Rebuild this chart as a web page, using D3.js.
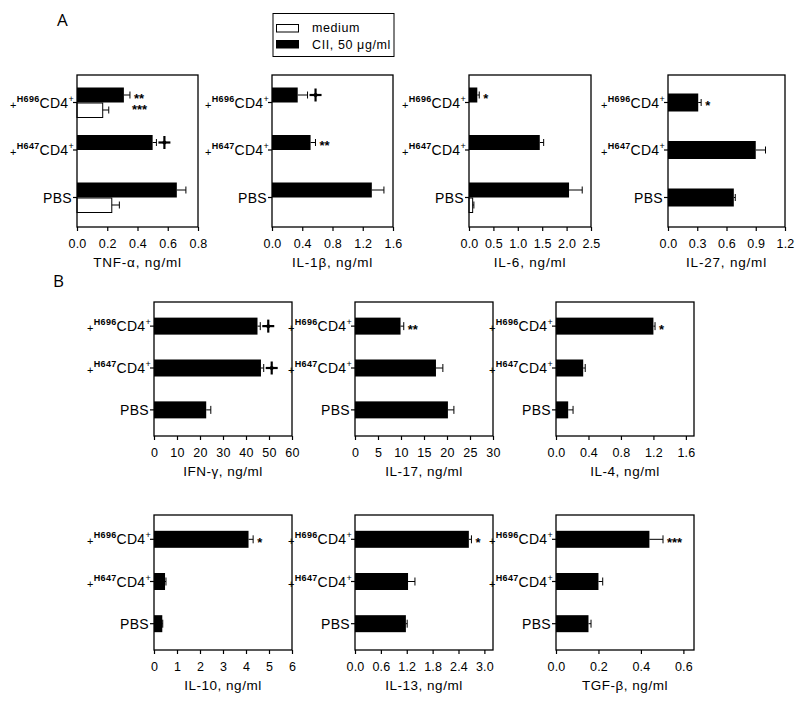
<!DOCTYPE html>
<html>
<head>
<meta charset="utf-8">
<script src="https://cdn.jsdelivr.net/npm/d3@7"></script>
<style>
  body { margin: 0; background: #fff; }
  text { font-family: "Liberation Sans", Arial, sans-serif; fill: #000; }
</style>
</head>
<body>
<script>
"use strict";
// groups on the y axis, top to bottom
var categories = ["H696", "H647", "PBS"];

// panel A : CII (black) and medium (white) bars, values in ng/ml
var tnfCII = [0.31, 0.50, 0.66], tnfCIIErr = [0.04, 0.025, 0.06];
var tnfMed = [0.17, 0, 0.23], tnfMedErr = [0.04, 0, 0.05];
var tnfSig = ["**", "cross", ""], tnfMedSig = ["***", "", ""];

var il1bCII = [0.34, 0.51, 1.32], il1bCIIErr = [0.13, 0.065, 0.16];
var il1bMed = [0, 0, 0], il1bMedErr = [0, 0, 0];
var il1bSig = ["cross", "**", ""];

var il6CII = [0.17, 1.45, 2.05], il6CIIErr = [0.04, 0.08, 0.27];
var il6Med = [0, 0, 0.075], il6MedErr = [0, 0, 0.025];
var il6Sig = ["*", "", ""];

var il27CII = [0.31, 0.90, 0.675], il27CIIErr = [0.03, 0.10, 0.015];
var il27Sig = ["*", "", ""];

// panel B : CII only
var ifngVal = [45.0, 46.5, 22.7], ifngErr = [1.2, 1.2, 2.0], ifngSig = ["cross", "cross", ""];
var il17Val = [9.9, 17.6, 20.2], il17Err = [0.7, 1.5, 1.3], il17Sig = ["**", "", ""];
var il4Val = [1.2, 0.335, 0.15], il4Err = [0.02, 0.025, 0.06], il4Sig = ["*", "", ""];
var il10Val = [4.11, 0.48, 0.36], il10Err = [0.2, 0.04, 0.02], il10Sig = ["*", "", ""];
var il13Val = [2.64, 1.23, 1.18], il13Err = [0.06, 0.16, 0.03], il13Sig = ["*", "", ""];
var tgfVal = [0.44, 0.20, 0.153], tgfErr = [0.064, 0.02, 0.012], tgfSig = ["***", "", ""];

// x axis tick values
var tnfTicks = [0, 0.2, 0.4, 0.6, 0.8];
var il1bTicks = [0, 0.4, 0.8, 1.2, 1.6];
var il6Ticks = [0, 0.5, 1.0, 1.5, 2.0, 2.5];
var il27Ticks = [0, 0.3, 0.6, 0.9, 1.2];
var ifngTicks = [0, 10, 20, 30, 40, 50, 60];
var il17Ticks = [0, 5, 10, 15, 20, 25, 30];
var il4Ticks = [0, 0.4, 0.8, 1.2, 1.6];
var il10Ticks = [0, 1, 2, 3, 4, 5, 6];
var il13Ticks = [0, 0.6, 1.2, 1.8, 2.4, 3.0];
var tgfTicks = [0, 0.2, 0.4, 0.6];

var panels = [
  { title: "TNF-\u03b1, ng/ml", max: 0.8, ticks: tnfTicks, fmt: ".1f", val: tnfCII, err: tnfCIIErr, med: tnfMed, medErr: tnfMedErr, sig: tnfSig, medSig: tnfMedSig,
    x0: 77, x1: 198, top: 75, bottom: 227, mode: "grouped" },
  { title: "IL-1\u03b2, ng/ml", max: 1.6, ticks: il1bTicks, fmt: ".1f", val: il1bCII, err: il1bCIIErr, med: il1bMed, medErr: il1bMedErr, sig: il1bSig,
    x0: 272, x1: 393, top: 75, bottom: 227, mode: "grouped" },
  { title: "IL-6, ng/ml", max: 2.5, ticks: il6Ticks, fmt: ".1f", val: il6CII, err: il6CIIErr, med: il6Med, medErr: il6MedErr, sig: il6Sig,
    x0: 469, x1: 591, top: 75, bottom: 227, mode: "grouped" },
  { title: "IL-27, ng/ml", max: 1.2, ticks: il27Ticks, fmt: ".1f", val: il27CII, err: il27CIIErr, sig: il27Sig,
    x0: 668, x1: 785, top: 75, bottom: 227, mode: "single", barH: 18 },
  { title: "IFN-\u03b3, ng/ml", max: 60, ticks: ifngTicks, fmt: "d", val: ifngVal, err: ifngErr, sig: ifngSig,
    x0: 154, x1: 292, top: 302, bottom: 436, mode: "single", barH: 17, small: true },
  { title: "IL-17, ng/ml", max: 30, ticks: il17Ticks, fmt: "d", val: il17Val, err: il17Err, sig: il17Sig,
    x0: 355, x1: 493, top: 302, bottom: 436, mode: "single", barH: 17, small: true },
  { title: "IL-4, ng/ml", max: 1.7, ticks: il4Ticks, fmt: ".1f", val: il4Val, err: il4Err, sig: il4Sig,
    x0: 556, x1: 694, top: 302, bottom: 436, mode: "single", barH: 17, small: true },
  { title: "IL-10, ng/ml", max: 6, ticks: il10Ticks, fmt: "d", val: il10Val, err: il10Err, sig: il10Sig,
    x0: 154, x1: 292, top: 515, bottom: 650, mode: "single", barH: 17, small: true },
  { title: "IL-13, ng/ml", max: 3.2, ticks: il13Ticks, fmt: ".1f", val: il13Val, err: il13Err, sig: il13Sig,
    x0: 355, x1: 493, top: 515, bottom: 650, mode: "single", barH: 17, small: true },
  { title: "TGF-\u03b2, ng/ml", max: 0.65, ticks: tgfTicks, fmt: ".1f", val: tgfVal, err: tgfErr, sig: tgfSig,
    x0: 556, x1: 694, top: 515, bottom: 650, mode: "single", barH: 17, small: true }
];

var svg = d3.select("body").append("svg")
  .attr("width", 800)
  .attr("height", 702);

//panel letters
svg.append("text").attr("x", 57).attr("y", 26)
  .style("font-family", "'Open Sans', 'DejaVu Sans', sans-serif")
  .attr("font-size", 17).text("A");
svg.append("text").attr("x", 53).attr("y", 287)
  .style("font-family", "'Open Sans', 'DejaVu Sans', sans-serif")
  .attr("font-size", 17).text("B");

//legend
var leg = svg.append("g");
leg.append("rect").attr("x", 273).attr("y", 13.5).attr("width", 121).attr("height", 43)
  .attr("fill", "#fff").attr("stroke", "#000").attr("stroke-width", 1);
leg.append("rect").attr("x", 276.5).attr("y", 24.5).attr("width", 22).attr("height", 7.5)
  .attr("fill", "#fff").attr("stroke", "#000").attr("stroke-width", 1);
leg.append("rect").attr("x", 276.5).attr("y", 40.5).attr("width", 22).attr("height", 7.5)
  .attr("fill", "#000").attr("stroke", "#000").attr("stroke-width", 1);
leg.append("text").attr("x", 312).attr("y", 31.5).attr("font-size", 12.5)
  .attr("letter-spacing", 0.6).text("medium");
leg.append("text").attr("x", 312).attr("y", 48.5).attr("font-size", 12.5)
  .attr("letter-spacing", 0.6).text("CII, 50 \u03bcg/ml");

//category label with superscripts, e.g. +H696CD4+
function catLabel(g, cat, xr, y) {
  var t = g.append("text")
    .attr("x", cat === "PBS" ? xr - 2 : xr)
    .attr("y", y + 5)
    .attr("text-anchor", "end")
    .attr("font-size", 14)
    .attr("letter-spacing", 0.3);
  if (cat === "PBS") {
    t.text("PBS");
    return;
  }
  t.append("tspan").attr("font-size", 11).attr("dy", 1).text("+");
  t.append("tspan").attr("font-size", 9).attr("font-weight", "bold").attr("dy", -7).text(cat);
  t.append("tspan").attr("dy", 6).text("CD4");
  t.append("tspan").attr("font-size", 9).attr("dy", -6).text("+");
}

//significance mark: stars as text, the cross drawn as lines
function sigMark(g, s, x, yc) {
  if (!s) return;
  if (s === "cross") {
    var cx = x + 6;
    g.append("line").attr("x1", cx).attr("x2", cx).attr("y1", yc - 6.5).attr("y2", yc + 6.5)
      .attr("stroke", "#000").attr("stroke-width", 2.2);
    g.append("line").attr("x1", cx - 6).attr("x2", cx + 6).attr("y1", yc).attr("y2", yc)
      .attr("stroke", "#000").attr("stroke-width", 2.2);
    g.append("circle").attr("cx", cx).attr("cy", yc).attr("r", 2).attr("fill", "#000");
    return;
  }
  g.append("text").attr("x", x + 2).attr("y", yc + 7.5)
    .attr("font-size", 13).attr("font-weight", "bold").text(s);
}

function errBar(g, x, v, e, yc, cap) {
  if (!e) return;
  g.append("line").attr("x1", x(v)).attr("x2", x(v + e)).attr("y1", yc).attr("y2", yc)
    .attr("stroke", "#000").attr("stroke-width", 1);
  g.append("line").attr("x1", x(v + e)).attr("x2", x(v + e)).attr("y1", yc - cap / 2).attr("y2", yc + cap / 2)
    .attr("stroke", "#000").attr("stroke-width", 1);
}

panels.forEach(function(p) {
  var g = svg.append("g");
  var x = d3.scaleLinear().domain([0, p.max]).range([p.x0, p.x1]);
  var y = d3.scalePoint().domain(categories).range([p.top - 1, p.bottom - 1]).padding(0.6);
  var cap = p.small ? 8 : 7;

  //bars
  categories.forEach(function(c, i) {
    var yc = y(c), v = p.val[i], e = p.err[i];
    var barTop, barH, barMid;
    if (p.mode === "grouped") {
      barH = 15;
      barTop = yc - barH;
    } else {
      barH = p.barH;
      barTop = yc - barH / 2;
    }
    barMid = barTop + barH / 2;
    g.append("rect").attr("x", x(0)).attr("y", barTop)
      .attr("width", x(v) - x(0)).attr("height", barH).attr("fill", "#000");
    errBar(g, x, v, e, barMid, cap);
    sigMark(g, p.sig[i], x(v + e) + 2, barMid);

    if (p.mode === "grouped" && p.med[i] > 0) {
      var m = p.med[i], me = p.medErr[i];
      g.append("rect").attr("x", x(0)).attr("y", yc + 0.5)
        .attr("width", x(m) - x(0)).attr("height", 14.5)
        .attr("fill", "#fff").attr("stroke", "#000").attr("stroke-width", 1);
      errBar(g, x, m, me, yc + 7.5, cap);
    }
    if (p.medSig && p.medSig[i]) {
      g.append("text").attr("x", x(v + e) + 2).attr("y", yc + 11)
        .attr("font-size", 13).attr("font-weight", "bold").text(p.medSig[i]);
    }
  });

  //frame
  g.append("rect").attr("x", p.x0).attr("y", p.top)
    .attr("width", p.x1 - p.x0).attr("height", p.bottom - p.top)
    .attr("fill", "none").attr("stroke", "#000").attr("stroke-width", 1.3);

  //x axis
  var ax = g.append("g").attr("transform", "translate(0," + p.bottom + ")")
    .call(d3.axisBottom(x).tickValues(p.ticks).tickSize(4).tickPadding(8)
      .tickFormat(d3.format(p.fmt)));
  ax.select(".domain").remove();
  ax.selectAll("line").attr("stroke-width", 1.2);
  ax.selectAll("text").attr("font-size", 12.5)
    .attr("letter-spacing", 0.2)
    .style("font-family", "'Liberation Sans', Arial, sans-serif");

  //y ticks and labels
  categories.forEach(function(c) {
    g.append("line").attr("x1", p.x0 - 4).attr("x2", p.x0).attr("y1", y(c)).attr("y2", y(c))
      .attr("stroke", "#000").attr("stroke-width", 1.2);
    catLabel(g, c, p.x0 - 3, y(c));
  });

  //axis title
  g.append("text").attr("x", (p.x0 + p.x1) / 2).attr("y", p.bottom + 40)
    .attr("text-anchor", "middle")
    .attr("font-size", 13.5)
    .attr("letter-spacing", p.small ? 0.5 : 0.8)
    .text(p.title);
});
</script>
</body>
</html>
